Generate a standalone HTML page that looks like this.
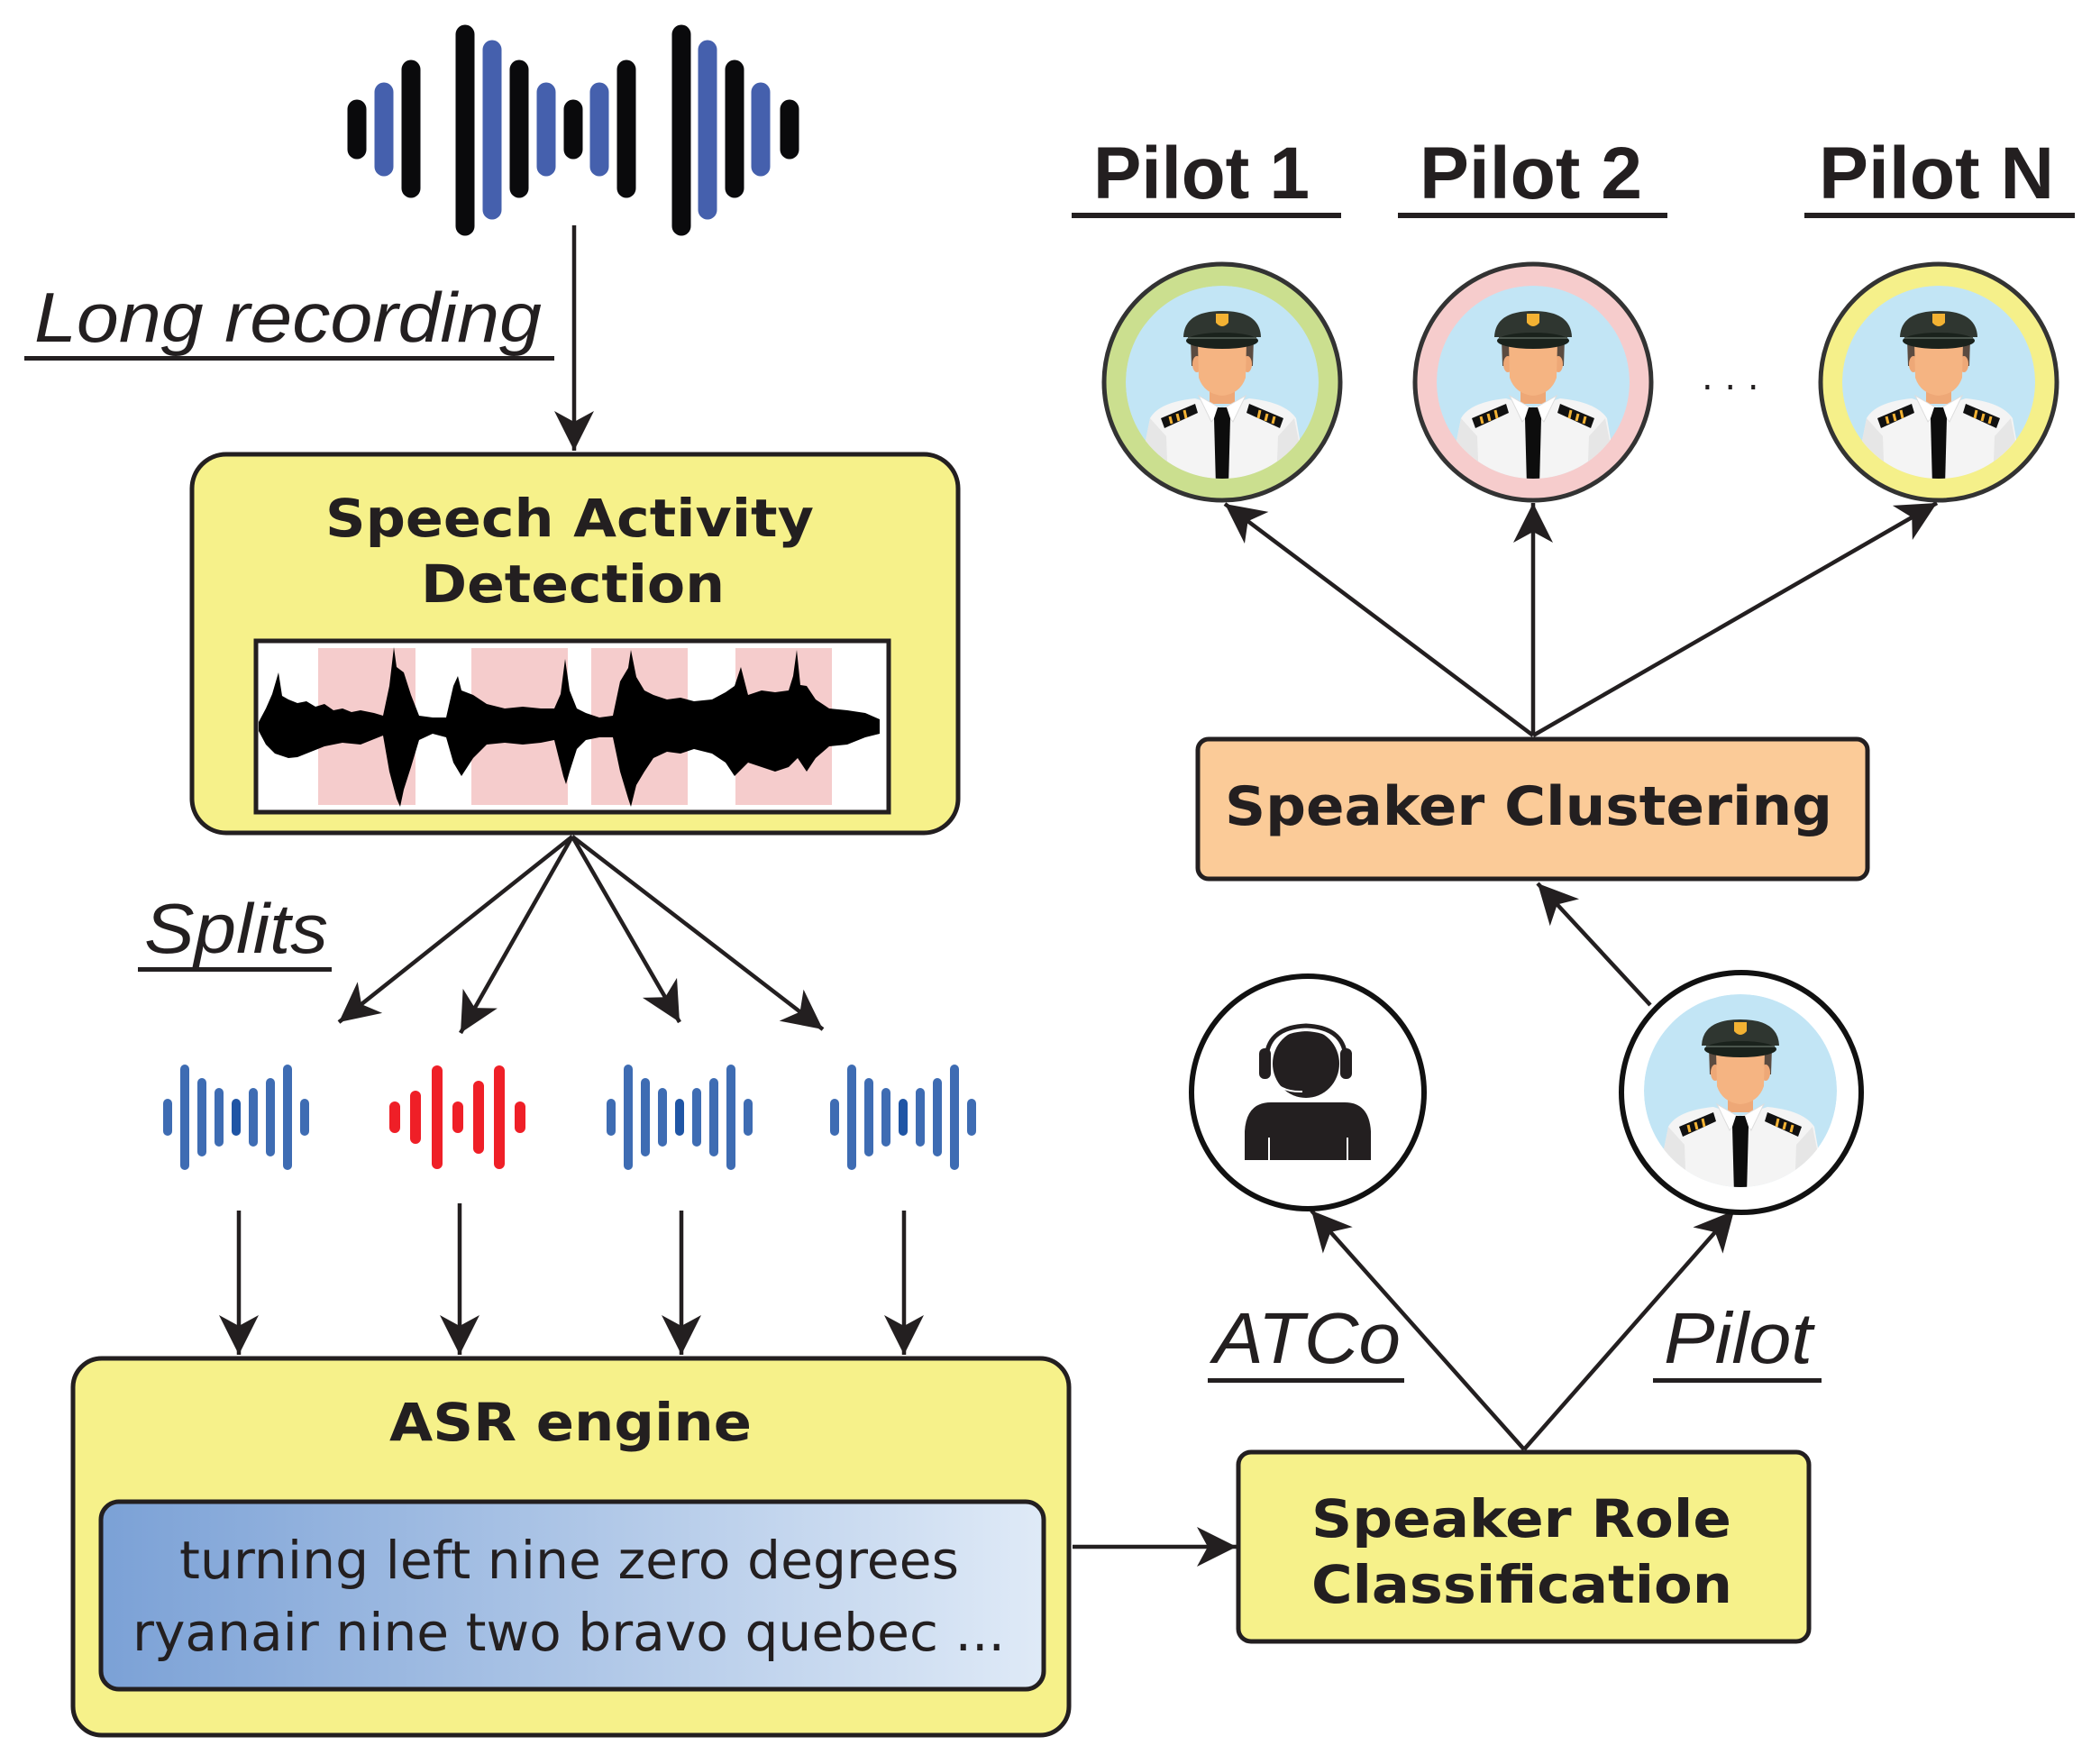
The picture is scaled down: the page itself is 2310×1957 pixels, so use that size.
<!DOCTYPE html>
<html><head><meta charset="utf-8"><style>
html,body{margin:0;padding:0;background:#fff;}
svg{display:block;}
.b{font-family:"DejaVu Sans",sans-serif;font-weight:bold;fill:#231f20;}
.r{font-family:"DejaVu Sans",sans-serif;fill:#231f20;}
.i{font-family:"Liberation Sans",sans-serif;font-style:italic;fill:#231f20;}
.p{font-family:"Liberation Sans",sans-serif;font-weight:bold;fill:#231f20;}
</style></head><body>
<svg width="2310" height="1957" viewBox="0 0 2310 1957" xmlns="http://www.w3.org/2000/svg">
<defs>
<marker id="ah" markerUnits="userSpaceOnUse" markerWidth="60" markerHeight="60" refX="44" refY="0" orient="auto" viewBox="-5 -30 60 60" overflow="visible">
<path d="M44,0 L0,-22 L12,0 L0,22 Z" fill="#231f20"/>
</marker>
<linearGradient id="asrg" x1="0" x2="1" y1="0" y2="0"><stop offset="0" stop-color="#7ba1d6"/><stop offset="1" stop-color="#dfeaf7"/></linearGradient>
<linearGradient id="lb" x1="0" x2="1"><stop offset="0" stop-color="#3a95d8"/><stop offset="1" stop-color="#4560ad"/></linearGradient>
<clipPath id="cc" clipPathUnits="userSpaceOnUse"><circle cx="0" cy="0" r="107"/></clipPath>
<g id="av">
<g clip-path="url(#cc)">
<circle cx="0" cy="0" r="107" fill="#c2e5f5"/>
<path d="M-80,40 Q-70,22 -30,18 L0,28 L30,18 Q70,22 82,40 L95,115 L-95,115 Z" fill="#f4f4f4"/>
<path d="M-80,40 L-95,115 L-60,115 L-62,60 Z" fill="#e6e6e6"/>
<path d="M80,40 L95,115 L60,115 L62,60 Z" fill="#e6e6e6"/>
<rect x="-14" y="0" width="28" height="24" fill="#eea877"/>
<path d="M-26,15 L0,30 L-12,44 Z" fill="#fff" stroke="#ddd" stroke-width="1"/>
<path d="M26,15 L0,30 L12,44 Z" fill="#fff" stroke="#ddd" stroke-width="1"/>
<path d="M-5,28 L5,28 L9,40 L7,115 L-7,115 L-9,40 Z" fill="#0d0d0d"/>
<path d="M-68,40 L-30,24 L-27,34 L-64,51 Z" fill="#111"/>
<path d="M68,40 L30,24 L27,34 L64,51 Z" fill="#111"/>
<g stroke="#f3b233" stroke-width="3"><line x1="-58" y1="38" x2="-56" y2="46"/><line x1="-50" y1="35" x2="-48" y2="43"/><line x1="-42" y1="31" x2="-40" y2="40"/><line x1="58" y1="38" x2="56" y2="46"/><line x1="50" y1="35" x2="48" y2="43"/><line x1="42" y1="31" x2="40" y2="40"/></g>
<path d="M-34,-18 L-35,-48 Q0,-62 35,-48 L34,-18 Z" fill="#5b4b40"/>
<ellipse cx="-28" cy="-20" rx="5" ry="9" fill="#eea877"/>
<ellipse cx="28" cy="-20" rx="5" ry="9" fill="#eea877"/>
<path d="M-27,-44 Q-10,-36 10,-48 L27,-44 L26,-5 Q20,13 0,15 Q-20,13 -26,-5 Z" fill="#f5b482"/>
<path d="M-43,-50 Q-42,-79 0,-79 Q42,-79 43,-50 Z" fill="#2f3630"/>
<ellipse cx="0" cy="-46" rx="40" ry="9" fill="#1a221c"/>
<line x1="-38" y1="-49" x2="38" y2="-49" stroke="#4a544c" stroke-width="2"/>
<path d="M-7,-76 L7,-76 L7,-66 Q0,-58 -7,-66 Z" fill="#f3b233"/>
</g>
</g>
</defs>

<!-- top waveform -->
<g stroke-linecap="round" stroke-width="21">
<line x1="396" y1="121" x2="396" y2="166" stroke="#0a0a0c"/>
<line x1="426" y1="102" x2="426" y2="185" stroke="#4560ad"/>
<line x1="456" y1="77" x2="456" y2="209" stroke="#0a0a0c"/>
<line x1="485" y1="55" x2="485" y2="233" stroke="url(#lb)"/>
<line x1="516" y1="38" x2="516" y2="251" stroke="#0a0a0c"/>
<line x1="546" y1="55" x2="546" y2="233" stroke="#4560ad"/>
<line x1="576" y1="77" x2="576" y2="209" stroke="#0a0a0c"/>
<line x1="606" y1="102" x2="606" y2="185" stroke="#4560ad"/>
<line x1="636" y1="121" x2="636" y2="166" stroke="#0a0a0c"/>
<line x1="665" y1="102" x2="665" y2="185" stroke="#4560ad"/>
<line x1="695" y1="77" x2="695" y2="209" stroke="#0a0a0c"/>
<line x1="724" y1="55" x2="724" y2="233" stroke="url(#lb)"/>
<line x1="756" y1="38" x2="756" y2="251" stroke="#0a0a0c"/>
<line x1="785" y1="55" x2="785" y2="233" stroke="#4560ad"/>
<line x1="815" y1="77" x2="815" y2="209" stroke="#0a0a0c"/>
<line x1="844" y1="102" x2="844" y2="185" stroke="#4560ad"/>
<line x1="876" y1="121" x2="876" y2="166" stroke="#0a0a0c"/>
</g>

<!-- connectors -->
<g stroke="#231f20" stroke-width="4.5" fill="none" marker-end="url(#ah)">
<line x1="637" y1="250" x2="637" y2="500"/>
<line x1="635" y1="928" x2="376" y2="1134"/>
<line x1="635" y1="928" x2="511" y2="1146"/>
<line x1="635" y1="928" x2="754" y2="1134"/>
<line x1="635" y1="928" x2="913" y2="1142"/>
<line x1="265" y1="1343" x2="265" y2="1503"/>
<line x1="510" y1="1335" x2="510" y2="1503"/>
<line x1="756" y1="1343" x2="756" y2="1503"/>
<line x1="1003" y1="1343" x2="1003" y2="1503"/>
<line x1="1190" y1="1716" x2="1372" y2="1716"/>
<line x1="1691" y1="1608" x2="1455" y2="1343"/>
<line x1="1691" y1="1608" x2="1924" y2="1343"/>
<line x1="1831" y1="1115" x2="1706" y2="980"/>
<line x1="1701" y1="816" x2="1359" y2="559"/>
<line x1="1701" y1="816" x2="1701" y2="558"/>
<line x1="1701" y1="816" x2="2149" y2="558"/>
</g>

<!-- Long recording -->
<text class="i" x="38" y="379" font-size="78" textLength="563" lengthAdjust="spacingAndGlyphs">Long recording</text>
<rect x="27" y="395" width="588" height="5" fill="#231f20"/>

<!-- SAD box -->
<rect x="213" y="504" width="850" height="420" rx="38" fill="#f6f18a" stroke="#231f20" stroke-width="5"/>
<text class="b" x="361" y="595" font-size="58" textLength="542" lengthAdjust="spacingAndGlyphs">Speech Activity</text>
<text class="b" x="467" y="668" font-size="58" textLength="337" lengthAdjust="spacingAndGlyphs">Detection</text>
<rect x="284" y="711" width="702" height="190" fill="#fff" stroke="#231f20" stroke-width="5"/>
<g fill="#f5cccc">
<rect x="353" y="719" width="108" height="174"/>
<rect x="523" y="719" width="107" height="174"/>
<rect x="656" y="719" width="107" height="174"/>
<rect x="816" y="719" width="107" height="174"/>
</g>
<polygon fill="#000" points="287,801 295,786 302,770 309,746 313,772 320,776 330,780 340,778 350,784 360,781 370,788 380,786 390,790 400,788 415,791 425,794 432,761 437,718 440,740 448,746 456,771 465,794 480,796 495,796 503,761 508,750 512,766 525,771 540,781 560,786 580,784 600,786 615,786 622,770 627,731 632,766 640,786 650,791 665,796 680,794 688,756 697,741 700,721 706,751 715,766 725,771 740,776 755,774 770,778 790,776 805,768 815,761 822,740 830,771 845,766 860,768 875,766 880,750 884,721 888,760 895,761 905,776 920,786 940,788 960,791 976,798 976,814 960,818 940,826 920,828 905,841 895,856 885,841 875,851 860,856 845,851 830,846 815,861 805,846 790,836 770,831 755,836 740,834 725,841 715,856 706,871 700,895 697,886 688,856 680,818 665,818 650,821 640,831 632,856 628,870 625,861 615,821 600,824 580,826 560,824 540,826 525,841 512,861 503,846 495,818 480,814 465,821 456,851 448,876 444,895 440,886 432,856 425,816 415,820 400,826 380,824 360,828 340,836 330,840 320,841 305,836 295,826 287,811"/>

<!-- Splits -->
<text class="i" x="160" y="1057" font-size="78" textLength="204" lengthAdjust="spacingAndGlyphs">Splits</text>
<rect x="153" y="1073" width="215" height="5" fill="#231f20"/>

<!-- small waveforms -->
<g id="sw" stroke="#3e6cb3" stroke-width="10" stroke-linecap="round">
<line x1="186" y1="1224" x2="186" y2="1255"/>
<line x1="205" y1="1186" x2="205" y2="1293"/>
<line x1="224" y1="1201" x2="224" y2="1278"/>
<line x1="243" y1="1212" x2="243" y2="1267"/>
<line x1="262" y1="1224" x2="262" y2="1255" stroke="#1f55a5"/>
<line x1="281" y1="1212" x2="281" y2="1267"/>
<line x1="300" y1="1201" x2="300" y2="1278"/>
<line x1="319" y1="1186" x2="319" y2="1293"/>
<line x1="338" y1="1224" x2="338" y2="1255"/>
</g>
<use href="#sw" transform="translate(492,0)"/>
<use href="#sw" transform="translate(740,0)"/>
<g stroke="#ef1f27" stroke-width="12" stroke-linecap="round">
<line x1="438" y1="1228" x2="438" y2="1251"/>
<line x1="461" y1="1216" x2="461" y2="1263"/>
<line x1="485" y1="1188" x2="485" y2="1291"/>
<line x1="508" y1="1228" x2="508" y2="1251"/>
<line x1="531" y1="1205" x2="531" y2="1274"/>
<line x1="554" y1="1188" x2="554" y2="1291"/>
<line x1="577" y1="1228" x2="577" y2="1251"/>
</g>

<!-- ASR box -->
<rect x="81" y="1507" width="1105" height="418" rx="32" fill="#f6f18a" stroke="#231f20" stroke-width="5"/>
<text class="b" x="432" y="1598" font-size="58" textLength="402" lengthAdjust="spacingAndGlyphs">ASR engine</text>
<rect x="112" y="1666" width="1046" height="208" rx="20" fill="url(#asrg)" stroke="#231f20" stroke-width="5"/>
<text class="r" x="199" y="1751" font-size="58" textLength="865" lengthAdjust="spacingAndGlyphs">turning left nine zero degrees</text>
<text class="r" x="147" y="1831" font-size="58" textLength="968" lengthAdjust="spacingAndGlyphs">ryanair nine two bravo quebec ...</text>

<!-- SRC box -->
<rect x="1374" y="1611" width="633" height="210" rx="14" fill="#f6f18a" stroke="#231f20" stroke-width="5"/>
<text class="b" x="1455" y="1705" font-size="58" textLength="466" lengthAdjust="spacingAndGlyphs">Speaker Role</text>
<text class="b" x="1455" y="1778" font-size="58" textLength="467" lengthAdjust="spacingAndGlyphs">Classification</text>

<!-- ATCo / Pilot labels -->
<text class="i" x="1346" y="1512" font-size="80" textLength="208" lengthAdjust="spacingAndGlyphs">ATCo</text>
<rect x="1340" y="1529" width="218" height="5" fill="#231f20"/>
<text class="i" x="1846" y="1512" font-size="80" textLength="165" lengthAdjust="spacingAndGlyphs">Pilot</text>
<rect x="1834" y="1529" width="187" height="5" fill="#231f20"/>

<!-- ATCo circle -->
<circle cx="1451" cy="1212" r="129" fill="#fff" stroke="#111" stroke-width="6"/>
<path d="M1381,1287 L1381,1255 Q1383,1223 1410,1223 L1492,1223 Q1519,1223 1521,1255 L1521,1287 Z" fill="#231f20"/>
<line x1="1408" y1="1262" x2="1408" y2="1287" stroke="#fff" stroke-width="2"/>
<line x1="1495" y1="1262" x2="1495" y2="1287" stroke="#fff" stroke-width="2"/>
<ellipse cx="1449" cy="1180" rx="37" ry="38" fill="#231f20"/>
<path d="M1405,1180 Q1403,1140 1449,1138 Q1495,1140 1493,1180" fill="none" stroke="#231f20" stroke-width="5"/>
<path d="M1410,1178 Q1408,1145 1449,1143 Q1490,1145 1488,1178" fill="none" stroke="#fff" stroke-width="2"/>
<rect x="1397" y="1163" width="13" height="34" rx="6" fill="#231f20"/>
<rect x="1487" y="1163" width="13" height="34" rx="6" fill="#231f20"/>
<path d="M1410,1195 Q1420,1212 1445,1211" fill="none" stroke="#fff" stroke-width="2"/>

<!-- Pilot (role) circle -->
<circle cx="1932" cy="1212" r="133" fill="#fff" stroke="#111" stroke-width="6"/>
<use href="#av" transform="translate(1931,1210)"/>

<!-- Speaker Clustering -->
<rect x="1329" y="820" width="743" height="155" rx="12" fill="#fbcb98" stroke="#231f20" stroke-width="5"/>
<text class="b" x="1359" y="915" font-size="60" textLength="674" lengthAdjust="spacingAndGlyphs">Speaker Clustering</text>

<!-- pilot clusters -->
<circle cx="1356" cy="424" r="131" fill="#cbdf8f" stroke="#333" stroke-width="5"/>
<use href="#av" transform="translate(1356,424)"/>
<circle cx="1701" cy="424" r="131" fill="#f6cccc" stroke="#333" stroke-width="5"/>
<use href="#av" transform="translate(1701,424)"/>
<circle cx="2151" cy="424" r="131" fill="#f5f08a" stroke="#333" stroke-width="5"/>
<use href="#av" transform="translate(2151,424)"/>
<text class="r" x="1888" y="432" font-size="40">. . .</text>

<text class="p" x="1213" y="220" font-size="82" textLength="240" lengthAdjust="spacingAndGlyphs">Pilot 1</text>
<rect x="1189" y="236" width="299" height="6" fill="#231f20"/>
<text class="p" x="1575" y="220" font-size="82" textLength="247" lengthAdjust="spacingAndGlyphs">Pilot 2</text>
<rect x="1551" y="236" width="299" height="6" fill="#231f20"/>
<text class="p" x="2018" y="220" font-size="82" textLength="261" lengthAdjust="spacingAndGlyphs">Pilot N</text>
<rect x="2002" y="236" width="300" height="6" fill="#231f20"/>
</svg>
</body></html>
